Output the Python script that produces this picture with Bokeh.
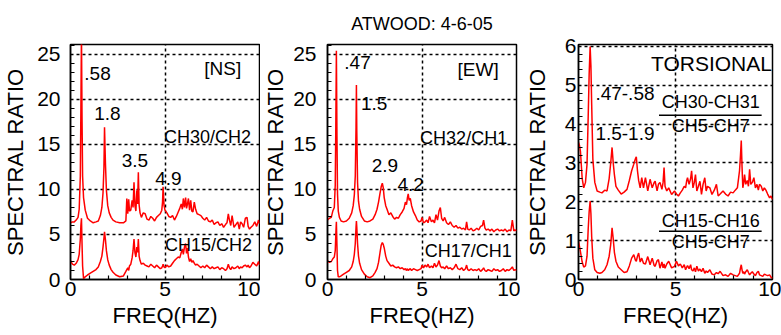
from bokeh.plotting import figure
from bokeh.layouts import row
from bokeh.models import Range1d, FixedTicker
from bokeh.core.properties import value
from bokeh.embed import file_html
from bokeh.resources import INLINE

FONT = "Liberation Sans"
RED = "#ff0000"

# ---- North-south spectral ratios ----
ns_freq = [
    0.00, 0.10, 0.20, 0.30, 0.40, 0.46, 0.52, 0.55, 0.58, 0.61,
    0.64, 0.69, 0.78, 0.90, 1.05, 1.20, 1.35, 1.47, 1.58, 1.66,
    1.72, 1.77, 1.80, 1.85, 1.90, 1.97, 2.05, 2.15, 2.25, 2.40,
    2.60, 2.80, 2.93, 2.98, 3.03, 3.08, 3.12, 3.19, 3.26, 3.31,
    3.36, 3.41, 3.46, 3.51, 3.55, 3.59, 3.63, 3.68, 3.75, 3.85,
    3.95, 4.05, 4.15, 4.25, 4.35, 4.45, 4.55, 4.65, 4.75, 4.83,
    4.87, 4.90, 4.95, 5.00, 5.10, 5.20, 5.30, 5.40, 5.50, 5.60,
    5.70, 5.78, 5.86, 5.92, 5.97, 6.03, 6.09, 6.14, 6.19, 6.24,
    6.30, 6.36, 6.42, 6.48, 6.55, 6.62, 6.70, 6.80, 6.90, 7.00,
    7.10, 7.20, 7.30, 7.40, 7.50, 7.60, 7.70, 7.80, 7.90, 8.00,
    8.10, 8.20, 8.28, 8.35, 8.41, 8.48, 8.55, 8.65, 8.75, 8.85,
    8.93, 9.00, 9.08, 9.16, 9.25, 9.34, 9.40, 9.47, 9.55, 9.65,
    9.75, 9.85, 9.95, 10.0,
]
ns_ch30_ch2 = [
    6.3, 6.4, 6.4, 6.6, 6.9, 7.8, 11.5, 19.0, 27.5, 18.0,
    11.5, 9.1, 7.7, 6.8, 6.5, 6.3, 6.4, 6.5, 7.1, 8.0,
    9.6, 12.5, 16.9, 12.8, 9.9, 8.2, 7.4, 6.9, 6.6, 6.4,
    6.3, 6.3, 6.5, 9.0, 7.3, 8.9, 7.6, 7.7, 8.8, 8.0,
    10.8, 8.2, 7.6, 9.9, 8.4, 11.9, 8.3, 7.4, 6.9, 7.4,
    7.3, 6.7, 6.6, 7.0, 6.8, 6.5, 6.9, 7.1, 7.3, 7.7,
    8.6, 10.3, 8.2, 7.7, 7.4, 7.0, 6.9, 7.1, 6.6, 7.0,
    7.5, 7.9, 8.4, 7.8, 9.0, 8.0, 9.1, 7.9, 8.4, 9.0,
    7.7, 8.8, 7.6, 7.5, 8.6, 7.8, 7.3, 7.2, 7.1, 6.8,
    6.6, 6.9, 6.5, 6.4, 6.6, 6.1, 6.3, 6.4, 6.0, 6.2,
    5.8, 6.1, 6.3, 7.3, 6.6, 6.0, 7.1, 5.8, 6.1, 6.4,
    5.6, 6.4, 6.2, 5.8, 6.8, 6.9, 5.9, 5.6, 5.8, 6.0,
    6.4, 5.9, 6.6, 6.2,
]
ns_ch15_ch2 = [
    2.1, 1.7, 1.6, 1.8, 2.2, 2.8, 4.5, 6.0, 6.8, 4.0,
    1.5, 0.1, 0.3, 0.5, 0.7, 0.9, 1.1, 1.4, 2.0, 2.6,
    3.6, 4.6, 5.3, 4.4, 3.2, 2.2, 1.6, 1.1, 0.8, 0.5,
    0.3, 0.4, 0.9, 1.1, 1.3, 1.0, 1.5, 1.7, 2.4, 3.2,
    4.5, 3.0, 2.5, 3.6, 3.0, 4.5, 2.6, 2.1, 1.7, 1.8,
    1.6, 1.5, 1.4, 1.7, 1.5, 1.3, 1.6, 1.4, 1.2, 1.3,
    1.5, 1.7, 1.4, 1.3, 1.6, 1.4, 1.5, 1.8, 2.1, 2.3,
    2.5, 2.4, 3.0, 3.4, 2.8, 3.6, 4.0, 2.9, 3.5, 2.5,
    2.0, 2.3, 1.9, 2.1, 1.8, 1.6, 1.7, 1.5, 1.3, 1.5,
    1.3, 1.6, 1.4, 1.2, 1.4, 1.2, 1.3, 1.4, 1.1, 1.3,
    1.2, 1.0, 1.2, 1.7, 1.3, 1.1, 1.4, 1.2, 1.3, 1.5,
    1.2, 1.4, 1.3, 1.5, 1.6, 1.4, 1.6, 1.3, 1.5, 1.9,
    1.7, 1.5, 2.0, 1.6,
]

# ---- East-west spectral ratios ----
ew_freq = [
    0.00, 0.10, 0.20, 0.28, 0.36, 0.41, 0.44, 0.47, 0.50, 0.53,
    0.57, 0.63, 0.72, 0.85, 1.00, 1.15, 1.28, 1.36, 1.42, 1.47,
    1.51, 1.53, 1.55, 1.59, 1.64, 1.70, 1.80, 1.95, 2.10, 2.25,
    2.40, 2.52, 2.62, 2.70, 2.78, 2.84, 2.90, 2.95, 3.00, 3.08,
    3.15, 3.25, 3.35, 3.45, 3.55, 3.65, 3.75, 3.85, 3.95, 4.05,
    4.12, 4.18, 4.23, 4.27, 4.32, 4.38, 4.45, 4.55, 4.65, 4.75,
    4.85, 4.95, 5.00, 5.08, 5.16, 5.25, 5.32, 5.40, 5.50, 5.58,
    5.66, 5.74, 5.82, 5.90, 5.97, 6.04, 6.12, 6.20, 6.30, 6.40,
    6.50, 6.60, 6.70, 6.80, 6.90, 7.00, 7.10, 7.20, 7.30, 7.36,
    7.42, 7.50, 7.60, 7.70, 7.80, 7.90, 8.00, 8.10, 8.20, 8.26,
    8.33, 8.40, 8.50, 8.60, 8.70, 8.80, 8.90, 9.00, 9.10, 9.20,
    9.30, 9.40, 9.50, 9.60, 9.70, 9.78, 9.86, 9.93, 10.0,
]
ew_ch32_ch1 = [
    6.6, 6.8, 6.9, 7.6, 8.0, 10.5, 17.0, 25.4, 16.0, 9.5,
    7.6, 6.9, 6.5, 6.4, 6.5, 6.8, 7.4, 8.2, 9.4, 11.5,
    17.0, 21.6, 16.5, 10.8, 8.7, 7.8, 7.0, 6.5, 6.4, 6.5,
    6.7, 7.2, 7.8, 8.6, 9.6, 10.3, 10.7, 10.2, 9.1, 8.2,
    7.8, 7.2, 7.4, 7.0, 6.7, 6.9, 6.8, 7.2, 7.5, 7.9,
    8.6, 8.3, 9.1, 9.5, 8.8, 9.0, 8.2, 7.5, 7.1, 6.6,
    6.4, 6.5, 6.9, 6.3, 6.4, 6.6, 6.3, 7.0, 6.4, 6.6,
    6.3, 7.2, 6.6, 7.6, 8.0, 6.8, 6.5, 6.9, 6.3, 6.1,
    6.4, 6.0, 5.8, 6.0, 5.7, 5.8, 5.6, 5.7, 5.5, 6.4,
    5.6, 5.5, 5.7, 5.4, 5.5, 5.7, 5.5, 5.9, 6.0, 6.6,
    5.7, 5.5, 5.6, 5.4, 5.6, 5.3, 5.5, 5.6, 5.4, 5.5,
    5.4, 5.6, 5.3, 5.5, 5.4, 6.6, 5.4, 5.5, 5.4,
]
ew_ch17_ch1 = [
    2.1, 1.9, 2.0, 2.3, 2.5, 3.2, 5.0, 6.4, 3.8, 1.0,
    0.3, 0.3, 0.4, 0.6, 0.8, 1.0, 1.4, 2.0, 2.8, 4.0,
    5.8, 6.5, 5.8, 4.0, 2.6, 1.8, 1.1, 0.6, 0.3, 0.2,
    0.4, 0.8, 1.2, 1.9, 3.0, 3.8, 4.1, 3.9, 3.5, 2.6,
    2.1, 1.8, 1.5, 1.6, 1.4, 1.3, 1.4, 1.2, 1.3, 1.1,
    1.2, 1.0, 1.2, 1.0, 1.1, 1.2, 1.0, 1.2, 1.1, 1.0,
    1.1, 1.2, 1.6, 1.3, 1.6, 1.4, 1.7, 1.3, 1.5, 1.3,
    1.8, 1.4, 1.6, 2.1, 1.5, 1.3, 1.4, 1.2, 1.5, 1.2,
    1.3, 1.1, 1.3, 1.7, 1.2, 1.1, 1.3, 1.0, 1.2, 1.6,
    1.1, 1.0, 1.2, 1.0, 1.1, 1.0, 1.2, 0.9, 1.1, 1.3,
    1.0, 0.9, 1.1, 1.0, 0.9, 1.2, 1.0, 1.1, 0.9, 1.0,
    1.2, 0.9, 1.1, 1.0, 1.2, 1.4, 1.0, 1.1, 1.0,
]

# ---- Torsional spectral ratios ----
tor_freq = [
    0.00, 0.05, 0.10, 0.19, 0.27, 0.36, 0.44, 0.50, 0.55, 0.60,
    0.64, 0.68, 0.74, 0.84, 0.96, 1.10, 1.21, 1.35, 1.47, 1.58,
    1.66, 1.73, 1.79, 1.85, 1.93, 2.05, 2.20, 2.35, 2.50, 2.62,
    2.74, 2.85, 2.93, 2.98, 3.04, 3.10, 3.18, 3.26, 3.35, 3.45,
    3.57, 3.69, 3.80, 3.90, 3.95, 4.05, 4.12, 4.20, 4.30, 4.36,
    4.41, 4.46, 4.55, 4.65, 4.80, 4.95, 5.05, 5.15, 5.25, 5.35,
    5.45, 5.52, 5.58, 5.62, 5.70, 5.78, 5.83, 5.90, 5.97, 6.03,
    6.10, 6.18, 6.26, 6.34, 6.42, 6.51, 6.58, 6.65, 6.77, 6.88,
    7.00, 7.11, 7.20, 7.30, 7.45, 7.58, 7.71, 7.84, 7.97, 8.08,
    8.19, 8.30, 8.35, 8.39, 8.43, 8.47, 8.52, 8.56, 8.62, 8.70,
    8.76, 8.82, 8.88, 8.96, 9.04, 9.12, 9.20, 9.27, 9.33, 9.42,
    9.50, 9.58, 9.66, 9.75, 9.85, 9.92, 10.0,
]
tor_ch30_ch31 = [
    3.53, 3.45, 3.30, 2.60, 2.36, 2.50, 2.97, 4.20, 5.30, 6.00,
    5.50, 4.50, 3.10, 2.50, 2.28, 2.25, 2.23, 2.30, 2.28, 2.60,
    3.00, 3.40, 3.00, 2.70, 2.40, 2.30, 2.20, 2.25, 2.32, 2.55,
    2.80, 2.97, 3.10, 3.16, 2.80, 2.55, 2.36, 2.62, 2.36, 2.62,
    2.28, 2.58, 2.36, 2.50, 2.53, 2.28, 2.45, 2.50, 2.32, 2.50,
    2.88, 2.40, 2.28, 2.36, 2.19, 2.28, 2.20, 2.15, 2.23, 2.30,
    2.40, 2.36, 2.55, 2.62, 2.45, 2.60, 2.80, 2.36, 2.50, 2.70,
    2.28, 2.40, 2.53, 2.19, 2.45, 2.62, 2.28, 2.40, 2.36, 2.19,
    2.30, 2.45, 2.15, 2.20, 2.28, 2.20, 2.15, 2.25, 2.23, 2.30,
    2.36, 2.80, 3.20, 3.58, 2.90, 2.36, 2.50, 2.70, 2.45, 2.55,
    2.40, 2.84, 2.45, 2.50, 2.62, 2.36, 2.45, 2.30, 2.45, 2.40,
    2.28, 2.36, 2.30, 2.20, 2.10, 2.15, 2.06,
]
tor_ch15_ch16 = [
    0.98, 0.85, 0.72, 0.45, 0.32, 0.35, 0.60, 1.30, 1.75, 2.02,
    1.70, 1.10, 0.55, 0.25, 0.18, 0.16, 0.18, 0.25, 0.38, 0.60,
    0.90, 1.33, 1.05, 0.70, 0.47, 0.32, 0.25, 0.18, 0.20, 0.35,
    0.55, 0.64, 0.50, 0.47, 0.60, 0.68, 0.45, 0.55, 0.42, 0.40,
    0.59, 0.38, 0.55, 0.36, 0.34, 0.48, 0.51, 0.29, 0.45, 0.30,
    0.40, 0.29, 0.40, 0.47, 0.30, 0.34, 0.47, 0.35, 0.40, 0.30,
    0.38, 0.25, 0.32, 0.36, 0.28, 0.38, 0.25, 0.22, 0.30, 0.20,
    0.34, 0.22, 0.27, 0.20, 0.29, 0.16, 0.22, 0.18, 0.25, 0.14,
    0.12, 0.18, 0.15, 0.21, 0.10, 0.12, 0.08, 0.16, 0.12, 0.10,
    0.08, 0.16, 0.30, 0.38, 0.25, 0.16, 0.20, 0.14, 0.20, 0.25,
    0.18, 0.12, 0.16, 0.20, 0.14, 0.10, 0.18, 0.21, 0.12, 0.10,
    0.08, 0.14, 0.12, 0.10, 0.12, 0.06, 0.03,
]

x_ticks = [0, 5, 10]
ratio_ticks_horizontal = [0, 5, 10, 15, 20, 25]
ratio_ticks_torsional = [0, 1, 2, 3, 4, 5, 6]


def panel(width, border_left, border_right, ymax, yticks, yminor,
          tick_standoff, label_standoff):
    p = figure(width=width, height=335, output_backend="svg",
               toolbar_location=None,
               x_range=Range1d(0, 10), y_range=Range1d(0, ymax),
               min_border_left=border_left, min_border_right=border_right,
               min_border_top=44, min_border_bottom=56,
               background_fill_color="white", border_fill_color="white")
    p.outline_line_color = "black"
    p.outline_line_width = 1.5
    p.outline_line_alpha = 1.0

    p.xaxis.ticker = FixedTicker(ticks=x_ticks, minor_ticks=[1, 2, 3, 4, 6, 7, 8, 9])
    p.yaxis.ticker = FixedTicker(ticks=yticks, minor_ticks=yminor)
    for ax in (p.xaxis[0], p.yaxis[0]):
        ax.axis_line_color = "black"
        ax.axis_line_width = 1.5
        ax.major_tick_in = 0
        ax.major_tick_out = 0
        ax.minor_tick_in = 4
        ax.minor_tick_out = 0
        ax.minor_tick_line_color = "black"
        ax.minor_tick_line_width = 1.2
        ax.major_label_text_font = FONT
        ax.major_label_text_font_size = "21px"
        ax.major_label_text_color = "black"
        ax.axis_label_text_font = FONT
        ax.axis_label_text_font_size = "22px"
        ax.axis_label_text_font_style = "normal"
        ax.axis_label_text_color = "black"

    p.xaxis.axis_label = "FREQ(HZ)"
    p.xaxis.major_label_standoff = 2
    p.xaxis.axis_label_standoff = 4
    p.yaxis.axis_label = "SPECTRAL RATIO"
    p.yaxis.major_label_standoff = tick_standoff
    p.yaxis.axis_label_standoff = label_standoff

    for g in (p.xgrid[0], p.ygrid[0]):
        g.grid_line_color = "black"
        g.grid_line_dash = "3 3"
        g.grid_line_width = 1.5
    return p


def annotate(p, xs, ys, texts, size="19px", align="left"):
    p.text(x=xs, y=ys, text=texts, text_font=value(FONT),
           text_font_size=value(size), text_align=align,
           text_baseline="middle", text_color="black")


ns_minor = [v for v in range(0, 27) if v % 5]
tor_minor = [round(0.2 * i, 1) for i in range(31) if i % 5]

# NS panel
p1 = panel(260, 67, 1, 26.1, ratio_ticks_horizontal, ns_minor, 10, 6)
p1.line(ns_freq, ns_ch30_ch2, line_color=RED, line_width=1.5)
p1.line(ns_freq, ns_ch15_ch2, line_color=RED, line_width=1.5)
annotate(p1, [0.73, 1.25, 2.71, 4.48], [22.9, 18.4, 13.2, 11.2],
         [".58", "1.8", "3.5", "4.9"])
annotate(p1, [7.08], [23.4], ["[NS]"])
annotate(p1, [4.95, 5.0], [15.8, 3.8], ["CH30/CH2", "CH15/CH2"], size="18px")

# EW panel
p2 = panel(260, 63, 4, 26.1, ratio_ticks_horizontal, ns_minor, 11, 2)
p2.line(ew_freq, ew_ch32_ch1, line_color=RED, line_width=1.5)
p2.line(ew_freq, ew_ch17_ch1, line_color=RED, line_width=1.5)
annotate(p2, [0.89, 1.77, 2.34, 3.70], [24.1, 19.6, 12.7, 10.5],
         [".47", "1.5", "2.9", "4.2"])
annotate(p2, [6.88], [23.3], ["[EW]"])
annotate(p2, [4.9, 5.15], [15.7, 3.2], ["CH32/CH1", "CH17/CH1"], size="18px")
p2.title.text = "ATWOOD: 4-6-05"
p2.title.align = "center"
p2.title.text_font = FONT
p2.title.text_font_size = "18px"
p2.title.text_font_style = "normal"
p2.title.text_color = "black"
p2.title.standoff = 22

# Torsional panel
p3 = panel(261, 58, 9, 6.05, ratio_ticks_torsional, tor_minor, 2, 12)
p3.line(tor_freq, tor_ch30_ch31, line_color=RED, line_width=1.5)
p3.line(tor_freq, tor_ch15_ch16, line_color=RED, line_width=1.5)
annotate(p3, [9.97], [5.57], ["TORSIONAL"], size="21px", align="right")
annotate(p3, [0.87, 0.87], [4.79, 3.76], [".47-.58", "1.5-1.9"])
annotate(p3, [6.82, 6.82, 6.82, 6.82], [4.56, 3.95, 1.51, 0.97],
         ["CH30-CH31", "CH5-CH7", "CH15-CH16", "CH5-CH7"],
         size="18px", align="center")
p3.segment(x0=[4.15, 4.15], y0=[4.23, 1.24], x1=[9.44, 9.44], y1=[4.23, 1.24],
           line_color="black", line_width=1.5)

layout = row(p1, p2, p3)
open("out.html", "w").write(file_html(layout, INLINE))
